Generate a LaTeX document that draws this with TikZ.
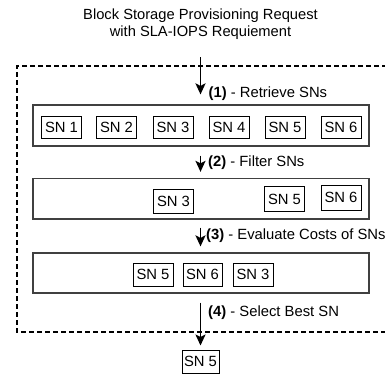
\documentclass[tikz,border=0pt]{standalone}
\usepackage{fontspec}
\setmainfont{Liberation Sans}
\usetikzlibrary{arrows.meta}

\tikzset{
  stage/.style={draw=black!75, line width=1.2pt, minimum width=336pt, minimum height=40pt, inner sep=0pt},
  snbox/.style={draw=black, line width=1pt, minimum width=40pt, minimum height=22pt, inner sep=0pt,
    font=\fontsize{14.8}{17}\selectfont},
  flow/.style={line width=1.8pt, -{Stealth[length=11pt,width=10pt,inset=2.5pt]}},
  steplabel/.style={anchor=west, inner sep=0pt, font=\fontsize{14.8}{17}\selectfont},
  frame/.style={line width=1.8pt, dash pattern=on 5pt off 3pt}
}

\begin{document}
\begin{tikzpicture}[x=1pt, y=-1pt]
  \clip (0,0) rectangle (385,376);
  \fill[white] (0,0) rectangle (385,376);

  % incoming request
  \node[align=center, inner sep=0pt, font=\fontsize{14.7}{16.8}\selectfont] (req) at (200.5,24)
    {Block Storage Provisioning Request\\with SLA-IOPS Requiement};

  % dashed boundary of the selection procedure
  \draw[frame] (395,66) -- (17,66) -- (17,332) -- (395,332);

  % stage containers
  \node[stage, minimum height=41pt] (box1) at (201,125.5) {};
  \node[stage, minimum height=40.5pt] (box2) at (201,198.7) {};
  \node[stage] (box3) at (201,273) {};

  % all storage nodes
  \node[snbox] (r1) at (61.5,127) {SN 1};
  \node[snbox] (r2) at (116.5,127) {SN 2};
  \node[snbox] (r3) at (173,127) {SN 3};
  \node[snbox] (r4) at (229,127) {SN 4};
  \node[snbox] (r5) at (285,127) {SN 5};
  \node[snbox] (r6) at (341,127) {SN 6};

  % filtered storage nodes
  \node[snbox, minimum height=24pt] (f3) at (173.5,201.5) {SN 3};
  \node[snbox, minimum height=25pt] (f5) at (284.5,199) {SN 5};
  \node[snbox, minimum height=25pt] (f6) at (341,197.5) {SN 6};

  % storage nodes ranked by cost
  \node[snbox, minimum height=23pt] (c5) at (153,274.5) {SN 5};
  \node[snbox, minimum height=23pt, minimum width=39pt] (c6) at (202.5,274.5) {SN 6};
  \node[snbox, minimum height=23pt] (c3) at (253,274.5) {SN 3};

  % selected storage node
  \node[snbox, minimum width=37pt, minimum height=23pt] (best) at (200.5,361.5) {SN 5};

  % procedure steps
  \draw[flow, shorten <=0pt, shorten >=10pt] ([yshift=-18pt]req.south) -- (req.south |- box1.north);
  \draw[flow, shorten <=9pt, shorten >=6pt] (box1.south -| best.north) -- (box2.north -| best.north);
  \draw[flow, shorten <=8pt, shorten >=6pt] (box2.south -| best.north) -- (box3.north -| best.north);
  \draw[flow, shorten <=9pt, shorten >=4pt] (box3.south -| best.north) -- (best.north);

  % step labels
  \node[steplabel] (lab1) at (208.5,93.5) {\textbf{(1)} - Retrieve SNs};
  \node[steplabel] (lab2) at (208,163) {\textbf{(2)} - Filter SNs};
  \node[steplabel] (lab3) at (206,235.5) {\textbf{(3)} - Evaluate Costs of SNs};
  \node[steplabel] (lab4) at (208,313) {\textbf{(4)} - Select Best SN};
\end{tikzpicture}
\end{document}
